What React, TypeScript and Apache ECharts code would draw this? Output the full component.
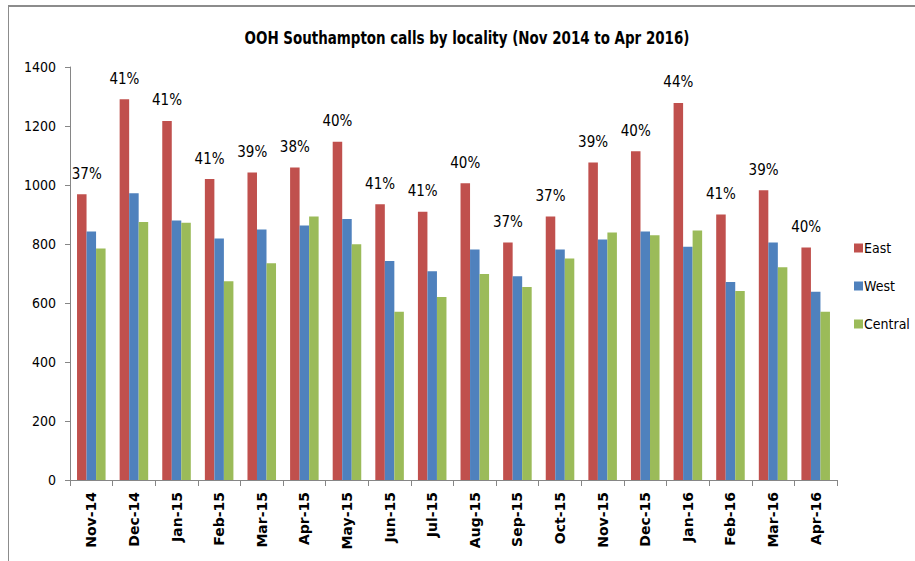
import React, { useEffect, useRef } from "react";
import * as echarts from "echarts";

const months = [
  "Nov-14", "Dec-14", "Jan-15", "Feb-15", "Mar-15", "Apr-15", "May-15", "Jun-15", "Jul-15",
  "Aug-15", "Sep-15", "Oct-15", "Nov-15", "Dec-15", "Jan-16", "Feb-16", "Mar-16", "Apr-16",
];
const east = [969, 1291, 1217, 1020, 1042, 1059, 1147, 935, 909, 1006, 805, 893, 1076, 1114, 1278, 900, 982, 788];
const west = [842, 972, 880, 819, 849, 863, 885, 742, 708, 781, 691, 781, 815, 842, 791, 671, 805, 638];
const central = [785, 875, 872, 674, 735, 893, 799, 570, 620, 698, 654, 751, 839, 830, 846, 641, 721, 570];
const eastShare = ["37%", "41%", "41%", "41%", "39%", "38%", "40%", "41%", "41%", "40%", "37%", "37%", "39%", "40%", "44%", "41%", "39%", "40%"];
const yTicks = { min: 0, max: 1400, interval: 200 };
const titleText = "OOH Southampton calls by locality (Nov 2014 to Apr 2016)";

const FONT = "'DejaVu Sans Condensed', sans-serif";

export default function App() {
  const ref = useRef<HTMLDivElement>(null);
  useEffect(() => {
    document.body.style.margin = "0";
    const chart = echarts.init(ref.current!, null, { renderer: "svg" });
    chart.setOption({
      animation: false,
      backgroundColor: "#ffffff",
      graphic: [
        { type: "line", shape: { x1: 8, y1: 6, x2: 915, y2: 6 }, style: { stroke: "#8c8c8c", lineWidth: 2 } },
        { type: "line", shape: { x1: 8.5, y1: 5, x2: 8.5, y2: 561 }, style: { stroke: "#8c8c8c", lineWidth: 1 } },
        {
          type: "text",
          x: 467,
          y: 38,
          scaleX: 0.83,
          style: {
            text: titleText,
            fontFamily: FONT,
            fontWeight: "bold",
            fontSize: 18,
            fill: "#000",
            textAlign: "center",
            textVerticalAlign: "middle",
          },
        },
      ],
      legend: {
        orient: "vertical",
        left: 849,
        top: 236,
        itemWidth: 9,
        itemHeight: 9,
        itemGap: 24,
        icon: "rect",
        textStyle: { fontFamily: FONT, fontSize: 14, color: "#000", padding: [0, 0, 0, -4] },
        data: ["East", "West", "Central"],
      },
      grid: { left: 70, right: 78, top: 67, bottom: 81, containLabel: false },
      xAxis: {
        type: "category",
        data: months,
        axisLine: { lineStyle: { color: "#868686" } },
        axisTick: { show: true, length: 6, lineStyle: { color: "#868686" } },
        axisLabel: {
          rotate: 90,
          margin: 12,
          interval: 0,
          fontFamily: "'DejaVu Sans', sans-serif",
          fontWeight: "bold",
          fontSize: 14,
          color: "#000",
        },
      },
      yAxis: {
        type: "value",
        min: yTicks.min,
        max: yTicks.max,
        interval: yTicks.interval,
        axisLine: { show: true, lineStyle: { color: "#868686" } },
        axisTick: { show: true, length: 5, lineStyle: { color: "#868686" } },
        splitLine: { show: false },
        axisLabel: { fontFamily: FONT, fontSize: 14, color: "#000", margin: 14, formatter: (v: number) => String(v) },
      },
      series: [
        {
          name: "East",
          type: "bar",
          data: east.map((v, i) => (i === 0 ? { value: v, label: { offset: [5, 0] } } : v)),
          itemStyle: { color: "#C0504D" },
          barGap: "0%",
          barCategoryGap: "33%",
          label: {
            show: true,
            position: "top",
            distance: 13,
            fontFamily: FONT,
            fontSize: 15,
            color: "#000",
            formatter: (p: any) => eastShare[p.dataIndex],
          },
        },
        { name: "West", type: "bar", data: west, itemStyle: { color: "#4F81BD" }, barGap: "0%", barCategoryGap: "33%" },
        { name: "Central", type: "bar", data: central, itemStyle: { color: "#9BBB59" }, barGap: "0%", barCategoryGap: "33%" },
      ],
    });
    return () => chart.dispose();
  }, []);
  return <div ref={ref} style={{ position: "absolute", left: 0, top: 0, width: 915, height: 561 }} />;
}
